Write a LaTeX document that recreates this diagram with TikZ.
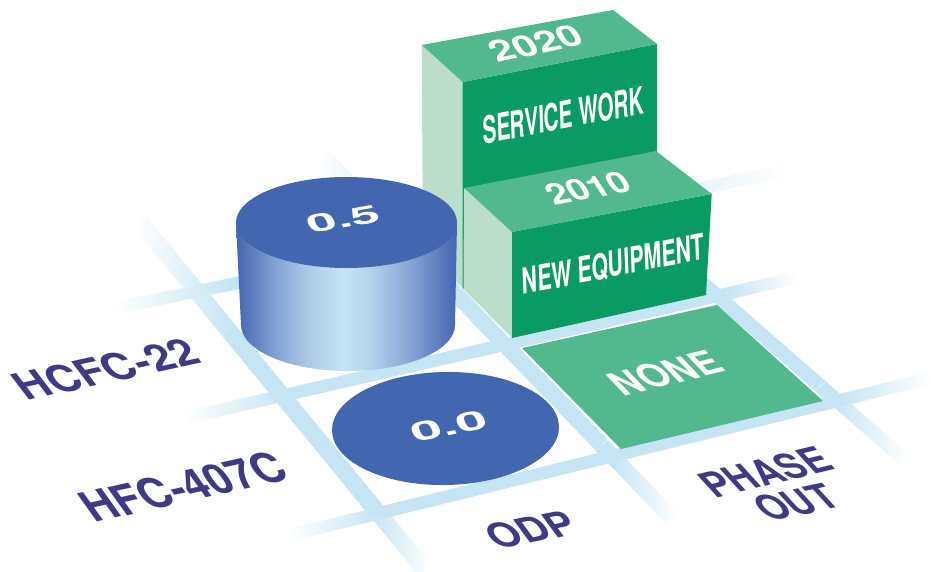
\documentclass[tikz,border=0pt]{standalone}
\usepackage{fontspec}
\setmainfont{TeX Gyre Heros}
\usetikzlibrary{calc}
\definecolor{gridblue}{HTML}{C5E4F4}
\definecolor{diskblue}{HTML}{4366B1}
\definecolor{darkgreen}{HTML}{0A9A63}
\definecolor{midgreen}{HTML}{52B88E}
\definecolor{palegreen}{HTML}{BCDDC9}
\definecolor{navy}{HTML}{3F3A85}
\definecolor{cyla}{HTML}{8AA8D8}
\definecolor{cylb}{HTML}{ABC8E6}
\definecolor{cylc}{HTML}{B4D4EE}
\definecolor{cyld}{HTML}{8AA5D5}
\pgfdeclarehorizontalshading{cylshade}{100bp}{
  color(0bp)=(diskblue); color(25bp)=(diskblue); color(35bp)=(cyla); color(41bp)=(cylb);
  color(49bp)=(gridblue); color(55bp)=(cylc); color(64bp)=(cyld); color(75bp)=(diskblue); color(100bp)=(diskblue)}
\tikzset{
  frontface/.style={fill=darkgreen},
  topface/.style={fill=midgreen},
  sideface/.style={fill=palegreen},
  disk/.style={fill=diskblue},
  gridfade/.style={blend mode=darken},
}
\newsavebox{\lblbox}
\newcommand{\gridline}[7]{%
  \pgfmathsetmacro{\glL}{veclen(#3-#1,#4-#2)}%
  \pgfmathsetmacro{\glA}{atan2(-(#4-#2),#3-#1)}%
  \pgfmathsetmacro{\glB}{\glL-#7}%
  \begin{scope}[shift={(#1,#2)},rotate=\glA,gridfade]
    \shade[left color=white,right color=gridblue] (0,-#5/2) rectangle (#6,#5/2);
    \fill[gridblue] (#6,-#5/2) rectangle (\glB,#5/2);
    \shade[left color=gridblue,right color=white] (\glB,-#5/2) rectangle (\glL,#5/2);
  \end{scope}}
\newcommand{\lbl}[9]{%
  \sbox{\lblbox}{\pgfinterruptpicture\normalfont\bfseries\fontsize{10}{12}\selectfont #9\endpgfinterruptpicture}%
  \pgfmathsetmacro{\lw}{\the\wd\lblbox}%
  \pgfmathsetmacro{\la}{(#4-#2)/\lw}%
  \pgfmathsetmacro{\lb}{-(#5-#3)/\lw}%
  \pgfmathsetmacro{\lc}{#6/7.29}%
  \pgfmathsetmacro{\ld}{-#7/7.29}%
  \begin{scope}[shift={(#2,#3)},cm={\la,\lb,\lc,\ld,(0,0)}]
    \node[transform shape,anchor=base west,inner sep=0pt,text=#8,font=\bfseries\fontsize{10}{12}\selectfont] (#1) at (0,0) {#9};
  \end{scope}}
\begin{document}
\begin{tikzpicture}[x=1pt,y=-1pt]
\useasboundingbox (0,0) rectangle (931,571);
\fill[white] (0,0) rectangle (931,571);
% grid
\gridline{115}{308}{790}{170}{12.5}{120}{235}
\gridline{185}{418}{795}{278}{12.5}{105}{70}
\gridline{290}{535}{931}{378}{12.5}{90}{95}
\gridline{140}{222}{425}{570}{17}{140}{75}
\gridline{322}{155}{672}{518}{16}{130}{80}
\gridline{690}{272}{905}{460}{14}{1}{95}
% none square
\fill[topface] (522,348) -- (717,305) -- (823,401) -- (621,449) -- cycle;
\draw[white,line width=.4pt] (600.7,445.7) -- (608.3,439);
\draw[white,line width=.4pt] (816.7,389.3) -- (825,382.3);
% upper box
\fill[sideface] (421.7,45) -- (462.7,82) -- (464,289) -- (423,250) -- cycle;
\fill[frontface] (462.7,82) -- (657,44) -- (657,152) -- (464,190) -- (464,289) -- (462.7,288) -- cycle;
\fill[topface] (421.7,45) -- (613,10) -- (657,44) -- (462.7,82) -- cycle;
% lower box
\fill[sideface] (464,188) -- (512,232) -- (512,338) -- (463.5,289) -- cycle;
\fill[frontface] (512,232) -- (711.7,194) -- (706,295) -- (512,338) -- cycle;
\fill[topface] (464,188) -- (656,151) -- (711.7,194) -- (512,232) -- cycle;
% cylinder
\shade[shading=cylshade]
  (236,223) -- (241,325) arc[start angle=180,end angle=360,x radius=107pt,y radius=46pt] -- (457,223) -- cycle;
\fill[disk] (346.5,222.5) ellipse [x radius=110.5pt,y radius=45.5pt];
% flat disk
\fill[disk,rotate around={1:(445.5,428.5)}] (445.5,428.5) ellipse [x radius=113.5pt,y radius=56.5pt];
% labels
\lbl{hcfc}{26}{401}{203}{362.5}{-19}{-25}{navy}{HCFC-22}
\lbl{hfc}{94}{523}{291}{479}{-20}{-28}{navy}{HFC-407C}
\lbl{odp}{497}{550}{581}{533}{-17}{-23}{navy}{ODP}
\lbl{phase}{714.7}{498.5}{836}{469.5}{-21}{-23}{navy}{PHASE}
\lbl{out}{769}{522}{843}{506.7}{-21}{-23}{navy}{OUT}
\lbl{none}{622.5}{396.5}{726.5}{371}{-20}{-21}{white}{NONE}
\lbl{odpa}{310.5}{234}{382}{221}{-8}{-17}{white}{0.5}
\lbl{odpb}{414}{443}{489}{427.5}{-8}{-18}{white}{0.0}
\lbl{ya}{497}{63}{586}{44}{-13}{-20}{white}{2020}
\lbl{yb}{553.5}{206}{634}{190.5}{-13}{-20}{white}{2010}
\lbl{sw}{483}{144.5}{644}{113.5}{-1}{-27.5}{white}{SERVICE WORK}
\lbl{ne}{522.5}{295}{704}{259}{-1}{-26}{white}{NEW EQUIPMENT}
\end{tikzpicture}
\end{document}
